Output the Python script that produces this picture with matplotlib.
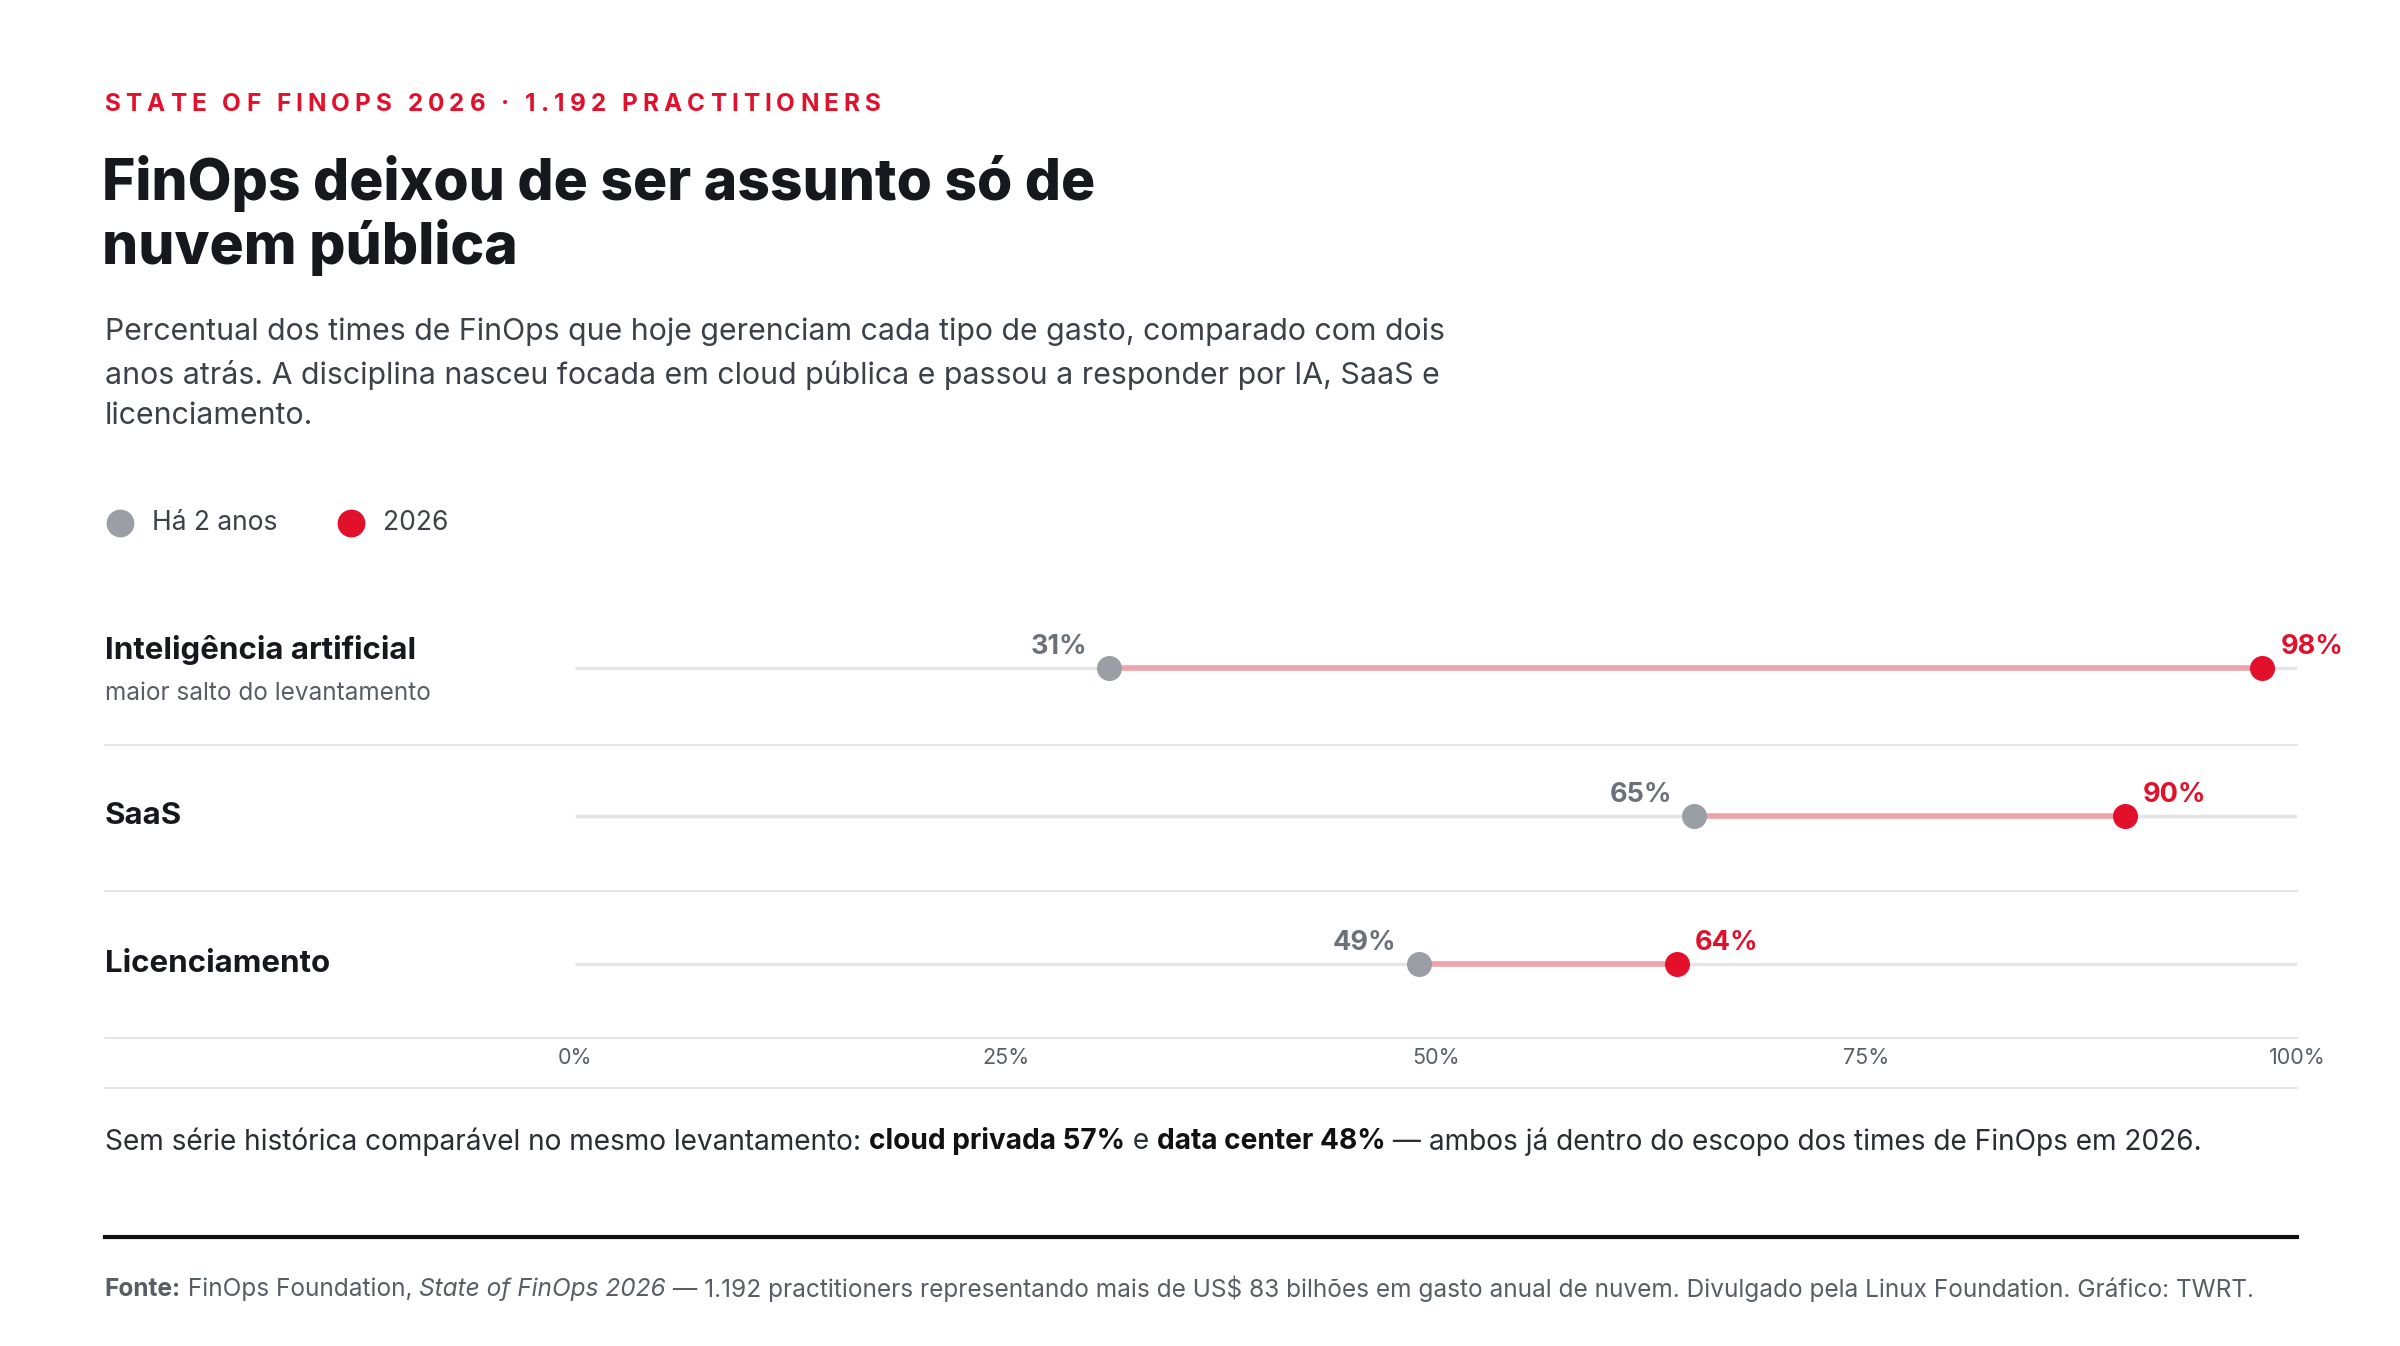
import matplotlib
matplotlib.use("Agg")
import matplotlib.pyplot as plt
from matplotlib.lines import Line2D
from matplotlib.transforms import blended_transform_factory as btf

categories = ["Inteligência artificial", "SaaS", "Licenciamento"]
sublabels = ["maior salto do levantamento", "", ""]
before = [31, 65, 49]
now = [98, 90, 64]
ticks = [0, 25, 50, 75, 100]
tick_labels = ["0%", "25%", "50%", "75%", "100%"]

RED = "#e3102b"; GRAY = "#9a9ea5"; PINK = "#eea3ab"; TRACK = "#e4e4e4"
DARK = "#16181d"; MUTED = "#585d66"
plt.rcParams['font.family'] = ['Inter', 'DejaVu Sans']

W, H = 1560, 875
fig = plt.figure(figsize=(24, 13.46), dpi=100)
def fx(x): return x / W
def fy(y): return 1 - y / H
renderer = fig.canvas.get_renderer()

def runs(x, y, pieces, spacing=0.0, **kw):
    for txt, props in pieces:
        chunks = list(txt) if spacing else [txt]
        for ch in chunks:
            t = fig.text(x, y, ch, va="center", **{**kw, **props})
            w = t.get_window_extent(renderer).width / fig.bbox.width
            x += w + spacing

runs(fx(68), fy(68), [("STATE OF FINOPS 2026 · 1.192 PRACTITIONERS", {})], spacing=fx(3.3),
     color=RED, fontsize=17.5, fontweight="bold")
fig.text(fx(66), fy(140), "FinOps deixou de ser assunto só de\nnuvem pública", color=DARK,
         fontsize=41, fontweight="heavy", va="center", linespacing=1.15)
fig.text(fx(68), fy(243), "Percentual dos times de FinOps que hoje gerenciam cada tipo de gasto, comparado com dois\n"
         "anos atrás. A disciplina nasceu focada em cloud pública e passou a responder por IA, SaaS e\n"
         "licenciamento.", color="#3c4048", fontsize=21.8, va="center", linespacing=1.55)
fig.add_artist(Line2D([fx(78)], [fy(340)], marker="o", ms=19, color=GRAY, ls=""))
fig.text(fx(99), fy(340), "Há 2 anos", fontsize=19, color="#3c4048", va="center")
fig.add_artist(Line2D([fx(228)], [fy(340)], marker="o", ms=19, color=RED, ls=""))
fig.text(fx(249), fy(340), "2026", fontsize=19, color="#3c4048", va="center")

ax = fig.add_axes([fx(374), fy(675), fx(1493) - fx(374), fy(386) - fy(675)])
ax.set_xlim(0, 100); ax.set_ylim(3, 0)
ax.axis("off")
for i, (c, s, b, n) in enumerate(zip(categories, sublabels, before, now)):
    y = i + 0.5
    ax.plot([0, 100], [y, y], color=TRACK, lw=2.5, zorder=1, solid_capstyle="butt")
    ax.plot([b, n], [y, y], color=PINK, lw=4, zorder=2)
    ax.plot([b], [y], "o", ms=17, color=GRAY, zorder=3, clip_on=False)
    ax.plot([n], [y], "o", ms=17, color=RED, zorder=3, clip_on=False)
    ax.annotate(f"{b}%", (b, y), xytext=(-16, 6), textcoords="offset points",
                ha="right", va="bottom", fontsize=19.5, fontweight="bold", color="#6b7079")
    ax.annotate(f"{n}%", (n, y), xytext=(13, 6), textcoords="offset points",
                ha="left", va="bottom", fontsize=19.5, fontweight="bold", color=RED)
    tr = btf(fig.transFigure, ax.transData)
    if s:
        ax.text(fx(68), y - 0.12, c, transform=tr, fontsize=22.5, fontweight="bold", color=DARK, va="center")
        ax.text(fx(68), y + 0.17, s, transform=tr, fontsize=17.5, color=MUTED, va="center")
    else:
        ax.text(fx(68), y, c, transform=tr, fontsize=22.5, fontweight="bold", color=DARK, va="center")
    if i < 2:
        fig.add_artist(Line2D([fx(68), fx(1493)], [fy(484 + 95.5 * i)] * 2, color="#e2e2e2", lw=1.3))
fig.add_artist(Line2D([fx(68), fx(1493)], [fy(675)] * 2, color="#e2e2e2", lw=1.3))
fig.add_artist(Line2D([fx(68), fx(1493)], [fy(707)] * 2, color="#e2e2e2", lw=1.3))
trt = btf(ax.transData, fig.transFigure)
for t, l in zip(ticks, tick_labels):
    ax.text(t, fy(688), l, transform=trt, ha="center", va="center", fontsize=15.5, color=MUTED)

B = {"fontweight": "bold", "color": "#111"}
runs(fx(68), fy(742), [("Sem série histórica comparável no mesmo levantamento: ", {}),
                       ("cloud privada 57%", B), (" e ", {}), ("data center 48%", B),
                       (" — ambos já dentro do escopo dos times de FinOps em 2026.", {})],
     fontsize=20.2, color="#2a2d33")
fig.add_artist(Line2D([fx(68), fx(1493)], [fy(804)] * 2, color="#111", lw=3))
runs(fx(68), fy(838), [("Fonte:", {"fontweight": "bold"}), (" FinOps Foundation, ", {}),
                       ("State of FinOps 2026", {"fontstyle": "italic"}),
                       (" — 1.192 practitioners representando mais de US$ 83 bilhões em gasto anual de nuvem. "
                        "Divulgado pela Linux Foundation. Gráfico: TWRT.", {})],
     fontsize=17.6, color=MUTED)
fig.savefig("out.png", dpi=100, facecolor="white")
